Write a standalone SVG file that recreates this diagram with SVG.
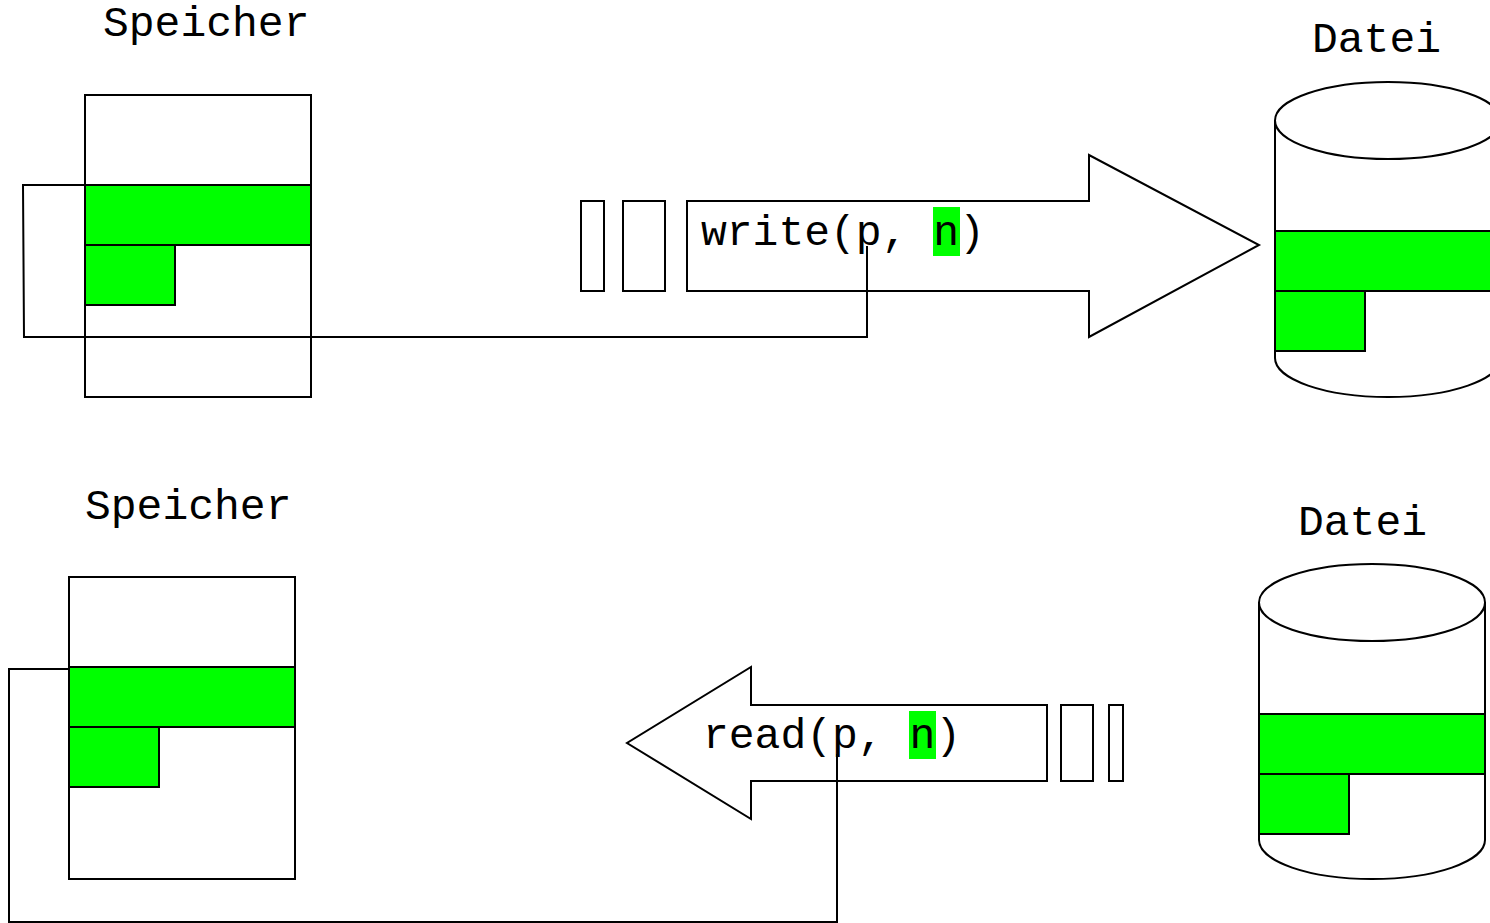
<svg xmlns="http://www.w3.org/2000/svg" width="1490" height="923" viewBox="0 0 1490 923">
<style>
.s{fill:none;stroke:#000;stroke-width:2}
.w{fill:#fff;stroke:#000;stroke-width:2}
.g{fill:#00ff00;stroke:#000;stroke-width:2}
.hl{fill:#00ff00;stroke:none}
.t{font-family:"Liberation Mono","Courier New",monospace;font-size:43px;fill:#000}
</style>
<rect width="1490" height="923" fill="#fff"/>
<g id="speicher-top">
<text class="t" x="103" y="36">Speicher</text>
<rect class="w" x="85" y="95" width="226" height="302"/>
<rect class="g" x="85" y="185" width="226" height="60"/>
<rect class="g" x="85" y="245" width="90" height="60"/>
</g>
<g id="buffers-top">
<rect class="w" x="581" y="201" width="23" height="90"/>
<rect class="w" x="623" y="201" width="42" height="90"/>
</g>
<g id="arrow-write">
<polygon class="w" points="687,201 1089,201 1089,155 1259,245 1089,337 1089,291 687,291"/>
<rect class="hl" x="933" y="207" width="27" height="49"/>
<text class="t" x="701" y="245">write(p, n)</text>
</g>
<g id="datei-top">
<text class="t" x="1312" y="52">Datei</text>
<path class="w" d="M1275,120 L1275,358 A113,39 0 0 0 1501,358 L1501,120"/>
<ellipse class="w" cx="1388" cy="120.5" rx="113" ry="38.5"/>
<rect class="g" x="1275" y="231" width="226" height="60"/>
<rect class="g" x="1275" y="291" width="90" height="60"/>
</g>
<g id="speicher-bottom">
<text class="t" x="85" y="519">Speicher</text>
<rect class="w" x="69" y="577" width="226" height="302"/>
<rect class="g" x="69" y="667" width="226" height="60"/>
<rect class="g" x="69" y="727" width="90" height="60"/>
</g>
<g id="arrow-read">
<polygon class="w" points="1047,705 751,705 751,667 627,743 751,819 751,781 1047,781"/>
<rect class="hl" x="909" y="711" width="27" height="48"/>
<text class="t" x="703" y="748">read(p, n)</text>
</g>
<g id="buffers-bottom">
<rect class="w" x="1061" y="705" width="32" height="76"/>
<rect class="w" x="1109" y="705" width="14" height="76"/>
</g>
<g id="datei-bottom">
<text class="t" x="1298" y="535">Datei</text>
<path class="w" d="M1259,602 L1259,840 A113,39 0 0 0 1485,840 L1485,602"/>
<ellipse class="w" cx="1372" cy="602.5" rx="113" ry="38.5"/>
<rect class="g" x="1259" y="714" width="226" height="60"/>
<rect class="g" x="1259" y="774" width="90" height="60"/>
</g>
<g id="connectors">
<polyline class="s" points="85,185 23,185 24,337 867,337 867,246"/>
<polyline class="s" points="69,669 9,669 9,922 837,922 837,754"/>
</g>
</svg>
